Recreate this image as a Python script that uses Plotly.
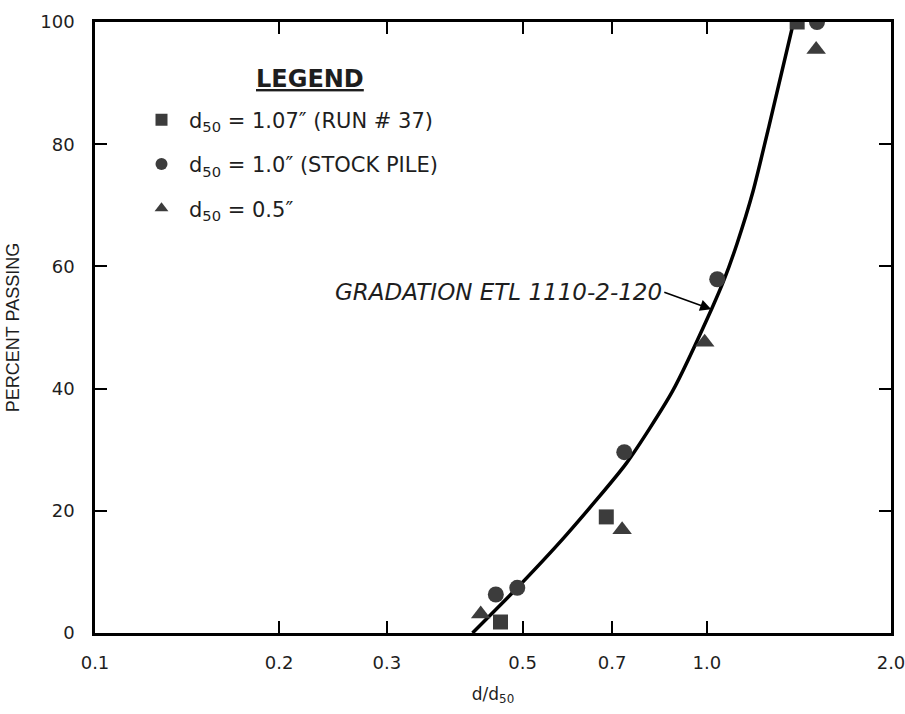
import math
import plotly.graph_objects as go

# Data
sq_x = [0.460, 0.685, 1.405]
sq_y = [1.8, 19.0, 100]
ci_x = [0.452, 0.490, 0.733, 1.040, 1.514]
ci_y = [6.3, 7.4, 29.6, 57.9, 100]
tr_x = [0.427, 0.727, 0.992, 1.509]
tr_y = [3.1, 16.9, 47.6, 95.5]
curve_x = [0.414, 0.490, 0.590, 0.739, 0.878, 1.020, 1.068, 1.121, 1.190, 1.264, 1.386]
curve_y = [0, 7.4, 16.1, 27.8, 39.5, 53.2, 57.9, 63.8, 72.3, 83.0, 100]
x_tick_vals = [0.1, 0.2, 0.3, 0.5, 0.7, 1.0, 2.0]
x_tick_text = ["0.1", "0.2", "0.3", "0.5", "0.7", "1.0", "2.0"]
y_tick_vals = [0, 20, 40, 60, 80, 100]
arrow_tip = (1.017, 53.0)

FONT = "DejaVu Sans, sans-serif"
TXT = "#1e1e1e"
MC = "#3c3c3c"

fig = go.Figure()
fig.add_trace(go.Scatter(x=curve_x, y=curve_y, mode="lines",
                         line=dict(color="black", width=3.5, shape="spline", smoothing=0.6),
                         showlegend=False, hoverinfo="skip"))
fig.add_trace(go.Scatter(x=sq_x, y=sq_y, mode="markers", name="d<sub>50</sub> = 1.07\u2033 (RUN # 37)",
                         legendgroup="a", marker=dict(symbol="square", size=15, color=MC)))
fig.add_trace(go.Scatter(x=ci_x, y=ci_y, mode="markers", name="d<sub>50</sub> = 1.0\u2033 (STOCK PILE)",
                         legendgroup="b", marker=dict(symbol="circle", size=16, color=MC)))
fig.add_trace(go.Scatter(x=tr_x, y=tr_y, mode="markers", name="d<sub>50</sub> = 0.5\u2033",
                         legendgroup="c", marker=dict(symbol="triangle-up", size=17, color=MC)))

fig.add_annotation(x=math.log10(arrow_tip[0]), y=arrow_tip[1], xref="x", yref="y",
                   text="<i>GRADATION ETL 1110-2-120</i>", showarrow=True,
                   ax=-47, ay=-17, xanchor="right", yanchor="middle",
                   arrowhead=2, arrowsize=1.4, arrowwidth=1.6, arrowcolor="black",
                   font=dict(family=FONT, size=23, color=TXT))
fig.add_annotation(x=0.27, y=0.907, xref="paper", yref="paper", showarrow=False,
                   text="<b><u>LEGEND</u></b>", xanchor="center", yanchor="middle",
                   font=dict(family=FONT, size=24, color=TXT))

axis_common = dict(showline=True, linecolor="black", linewidth=2.5, mirror="ticks",
                   ticks="inside", ticklen=12, tickwidth=2, tickcolor="black",
                   showgrid=False, zeroline=False,
                   ticklabeloverflow="allow",
                   tickfont=dict(family=FONT, size=18, color=TXT))

fig.update_layout(
    width=905, height=714,
    margin=dict(l=95, r=13, t=11, b=81),
    paper_bgcolor="white", plot_bgcolor="white",
    xaxis=dict(type="log", range=[-1, 0.30103], tickvals=x_tick_vals, ticktext=x_tick_text,
               automargin=False, ticklabelstandoff=12,
               title=dict(text="d/d<sub>50</sub>", font=dict(family=FONT, size=17, color=TXT), standoff=16),
               **axis_common),
    yaxis=dict(range=[0, 100], tickvals=y_tick_vals, ticklabelstandoff=14,
               title=dict(text="PERCENT PASSING", font=dict(family="Liberation Sans, Arial, sans-serif", size=18, color=TXT), standoff=16),
               **axis_common),
    legend=dict(x=0.049, y=0.873, xanchor="left", yanchor="top",
                font=dict(family=FONT, size=21, color=TXT), bgcolor="rgba(0,0,0,0)",
                itemsizing="constant", itemwidth=45, tracegroupgap=14),
    showlegend=True,
)

fig.write_html("out.html")
